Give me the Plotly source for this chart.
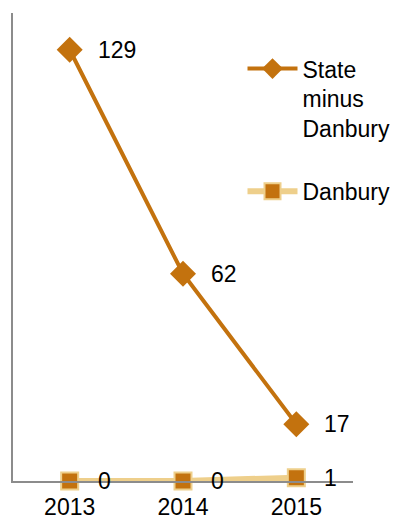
import plotly.graph_objects as go

years = ["2013", "2014", "2015"]
state_minus_danbury = [129, 62, 17]
danbury = [0, 0, 1]
series_names = ["State<br>minus<br>Danbury", "Danbury"]

FONT = "Liberation Sans"
FS = 23
DARK = "#C3720E"
LIGHT = "#EECF8B"

fig = go.Figure()
fig.add_trace(go.Scatter(
    x=years, y=state_minus_danbury, name=series_names[0], legendgroup="a",
    mode="lines+markers",
    line=dict(color=DARK, width=4),
    marker=dict(symbol="diamond", size=20, color=DARK),
    cliponaxis=False,
))
fig.add_trace(go.Scatter(
    x=years, y=danbury, name=series_names[1], legendgroup="b",
    mode="lines+markers",
    line=dict(color=LIGHT, width=6),
    marker=dict(symbol="square", size=17, color=DARK, line=dict(color=LIGHT, width=2)),
    cliponaxis=False,
))

for series in (state_minus_danbury, danbury):
    for i, yv in enumerate(series):
        fig.add_annotation(x=i, y=yv, xref="x", yref="y", text=str(yv),
                           showarrow=False, xanchor="left", yanchor="middle",
                           xshift=26, font=dict(family=FONT, size=FS, color="#000000"))

fig.update_layout(
    width=405, height=525,
    margin=dict(l=5, r=60, t=5, b=52),
    paper_bgcolor="white", plot_bgcolor="white",
    font=dict(family=FONT, size=FS, color="#000000"),
    showlegend=True,
    legend=dict(x=0.675, y=0.927, xanchor="left", yanchor="top", valign="top",
                bgcolor="rgba(0,0,0,0)", font=dict(size=FS),
                tracegroupgap=30, itemwidth=50),
    hovermode=False,
)
fig.update_xaxes(type="category", range=[-0.5, 2.5], showline=True, linecolor="#8c8c8c",
                 linewidth=1.5, showgrid=False, zeroline=False, ticks="",
                 ticklabelstandoff=5,
                 tickfont=dict(family=FONT, size=FS, color="#000000"))
fig.update_yaxes(range=[0, 140], showline=True, linecolor="#8c8c8c", linewidth=1.5,
                 showgrid=False, zeroline=False, showticklabels=False, ticks="")

fig.write_html("out.html")
